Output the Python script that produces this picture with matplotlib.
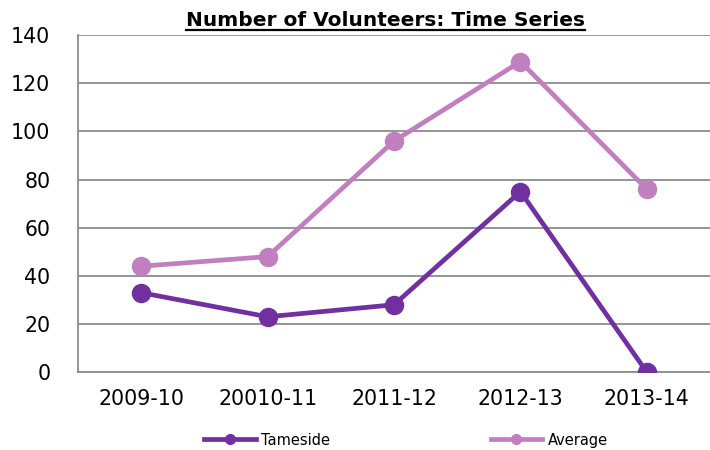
import matplotlib
matplotlib.use("Agg")
import matplotlib.pyplot as plt
from matplotlib.lines import Line2D

seasons = ["2009-10", "20010-11", "2011-12", "2012-13", "2013-14"]
tameside = [33, 23, 28, 75, 0]
average = [44, 48, 96, 129, 76]
yticks = [0, 20, 40, 60, 80, 100, 120, 140]

tameside_col = "#7030A0"
average_col = "#C080C0"

plt.rcParams["font.family"] = ["DejaVu Sans"]

fig = plt.figure(figsize=(7.1, 4.5), dpi=100)
ax = fig.add_axes([0.11, 0.173, 0.89, 0.749])

x = range(len(seasons))
ax.plot(x, tameside, color=tameside_col, lw=3.4, marker="o", ms=13, label="Tameside",
        solid_capstyle="round", zorder=3)
ax.plot(x, average, color=average_col, lw=3.4, marker="o", ms=13, label="Average",
        solid_capstyle="round", zorder=3)

ax.set_xlim(-0.5, 4.5)
ax.set_ylim(0, 140)
ax.set_yticks(yticks)
ax.set_xticks(list(x))
ax.set_xticklabels(seasons)
ax.tick_params(axis="both", length=0, labelsize=14.8, colors="black")
ax.tick_params(axis="y", pad=20)
ax.tick_params(axis="x", pad=12)
ax.yaxis.grid(True, color="#8c8c8c", lw=1.3)
ax.set_axisbelow(True)
for s in ["top", "right"]:
    ax.spines[s].set_visible(False)
for s in ["left", "bottom"]:
    ax.spines[s].set_color("#8c8c8c")
    ax.spines[s].set_linewidth(1.3)

# title with underline
title = fig.text(0.543, 0.942, "Number of Volunteers: Time Series", ha="center",
                 va="baseline", fontsize=14.5, fontweight="bold")
fig.canvas.draw()
bb = title.get_window_extent().transformed(fig.transFigure.inverted())
fig.add_artist(Line2D([bb.x0, bb.x1], [0.934, 0.934], color="black", lw=1.6,
                      transform=fig.transFigure))

leg_handles = [
    Line2D([], [], color=tameside_col, lw=3.4, marker="o", ms=7),
    Line2D([], [], color=average_col, lw=3.4, marker="o", ms=7),
]
fig.legend(leg_handles, ["Tameside", "Average"], loc="center",
           bbox_to_anchor=(0.572, 0.022), ncol=2, frameon=False, fontsize=10.5,
           handlelength=3.5, columnspacing=11, handletextpad=0.4)

fig.savefig("out.png", dpi=100)
